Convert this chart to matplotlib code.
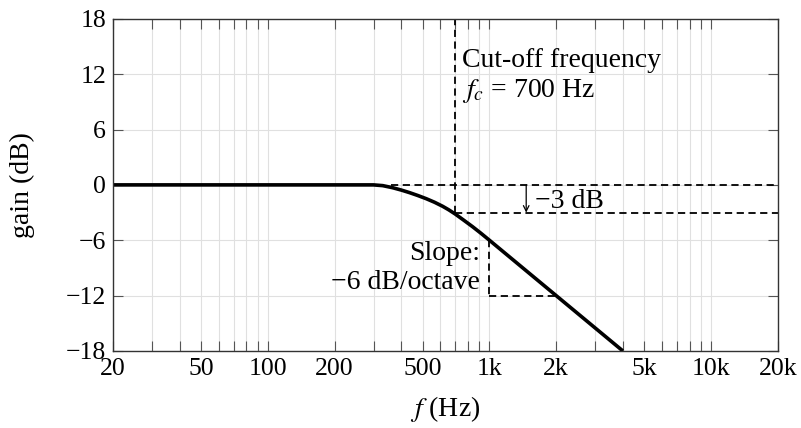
import numpy as np
import matplotlib
matplotlib.use("Agg")
import matplotlib.pyplot as plt
from matplotlib.ticker import FixedLocator, NullFormatter

plt.rcParams["font.family"] = ["Liberation Serif", "DejaVu Serif"]
plt.rcParams["mathtext.fontset"] = "stix"

# Frequency response (Hz, dB)
freq = [20, 300, 330, 365, 400, 436, 475, 519, 565, 615, 655, 700, 765, 839, 915,
        1000, 2000, 4000]
gain = [0, 0, -0.08, -0.30, -0.56, -0.84, -1.15, -1.50, -1.88, -2.32, -2.70, -3.15,
        -3.82, -4.53, -5.24, -6, -12, -18]

# annotation values
fc = 700
cut_db = -3
knee_start = 360
arrow_f = 1465
slope_f = [1000, 2000]
slope_g = [-6, -12]

x_major = [20, 50, 100, 200, 500, 1000, 2000, 5000, 10000, 20000]
x_labels = ["20", "50", "100", "200", "500", "1k", "2k", "5k", "10k", "20k"]
x_minor = [30, 40, 60, 70, 80, 90, 300, 400, 600, 700, 800, 900,
           3000, 4000, 6000, 7000, 8000, 9000]
y_ticks = [-18, -12, -6, 0, 6, 12, 18]

fig = plt.figure(figsize=(8.01, 4.28), dpi=100)
ax = fig.add_axes([0.141, 0.180, 0.830, 0.776])

ax.set_xscale("log")
ax.set_xlim(20, 20000)
ax.set_ylim(-18, 18)

ax.xaxis.set_major_locator(FixedLocator(x_major))
ax.set_xticklabels(x_labels)
ax.xaxis.set_minor_locator(FixedLocator(x_minor))
ax.xaxis.set_minor_formatter(NullFormatter())
ax.set_yticks(y_ticks)
ax.set_yticklabels([f"{v}".replace("-", "\u2212") for v in y_ticks])

ax.grid(True, which="both", color="#e0e0e0", lw=0.8)
ax.set_axisbelow(True)
ax.tick_params(which="both", direction="in", top=True, right=True,
               color="#555555", labelsize=18.5)
ax.tick_params(which="both", length=7, width=0.8)
ax.tick_params(axis="x", pad=5)
ax.tick_params(axis="y", pad=5)
for s in ax.spines.values():
    s.set_color("#333333")
    s.set_linewidth(1.0)

dash = (0, (4, 2.5))
ax.plot([fc, fc], [cut_db, 18], color="black", lw=1.3, linestyle=dash)
ax.plot([knee_start, 20000], [0, 0], color="black", lw=1.3, linestyle=dash)
ax.plot([fc, 20000], [cut_db, cut_db], color="black", lw=1.3, linestyle=dash)
ax.plot([slope_f[0], slope_f[0]], slope_g, color="black", lw=1.3, linestyle=dash)
ax.plot(slope_f, [slope_g[1], slope_g[1]], color="black", lw=1.3, linestyle=dash)

ax.plot(freq, gain, color="black", lw=2.6, solid_capstyle="butt",
        solid_joinstyle="round")

ax.annotate("", xy=(arrow_f, cut_db), xytext=(arrow_f, 0),
            arrowprops=dict(arrowstyle="->", lw=0.9, color="black",
                            shrinkA=0, shrinkB=0))
ax.text(1610, -1.8, "\u22123 dB", fontsize=20, va="center", ha="left")
ax.text(905, -9.0, "Slope:\n\u22126 dB/octave", fontsize=20, va="center",
        ha="right", multialignment="right", linespacing=1.2)
ax.text(755, 11.7, "Cut-off frequency\n$f_c$ = 700 Hz", fontsize=20,
        va="center", ha="left", linespacing=1.2)

ax.set_ylabel("gain (dB)", fontsize=20, labelpad=22)
ax.set_xlabel("$f$ (Hz)", fontsize=20, labelpad=10)

fig.savefig("out.png", dpi=100)
